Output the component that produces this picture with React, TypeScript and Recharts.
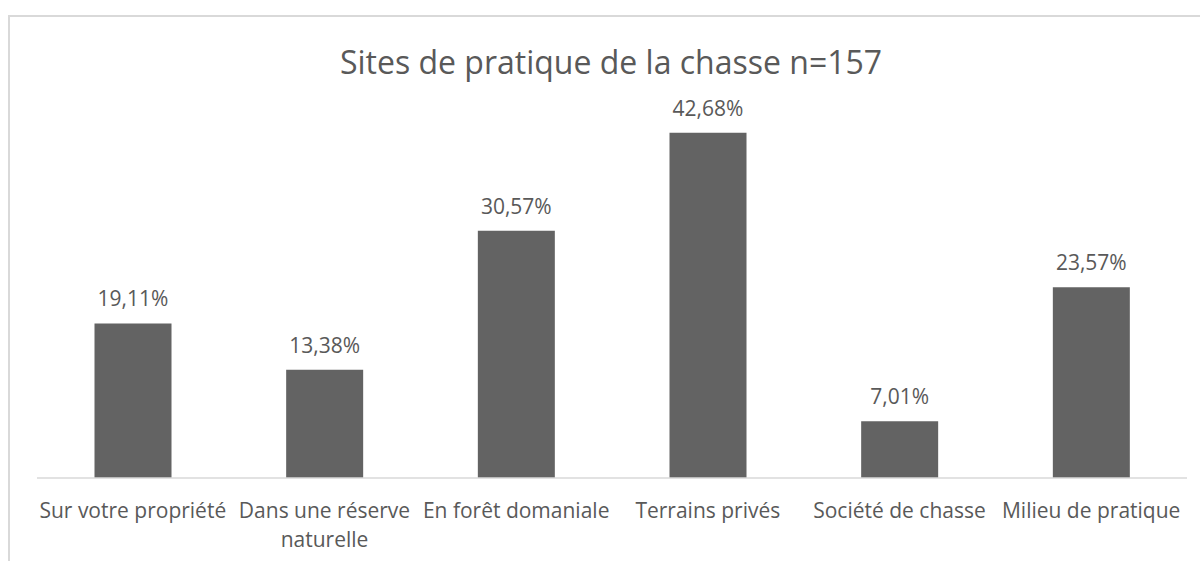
import React from "react";
import { BarChart, Bar, XAxis, YAxis, LabelList } from "recharts";

const categories = [
  "Sur votre propriété",
  "Dans une réserve naturelle",
  "En forêt domaniale",
  "Terrains privés",
  "Société de chasse",
  "Milieu de pratique",
];
const tickLines = [
  ["Sur votre propriété"],
  ["Dans une réserve", "naturelle"],
  ["En forêt domaniale"],
  ["Terrains privés"],
  ["Société de chasse"],
  ["Milieu de pratique"],
];
const values = [19.11, 13.38, 30.57, 42.68, 7.01, 23.57];
const title = "Sites de pratique de la chasse n=157";

const data = categories.map((c, i) => ({ name: c, value: values[i] }));

const FONT = "'Open Sans', sans-serif";
const TEXT = "#595959";

const fmt = (v: number) => v.toFixed(2).replace(".", ",") + "%";

const Tick = (props: any) => {
  const { x, y, payload, index } = props;
  const idx = typeof index === "number" ? index : categories.indexOf(payload.value);
  const lines = tickLines[idx] || [payload.value];
  return (
    <text
      x={x}
      y={y + 32}
      textAnchor="middle"
      fontSize={21}
      fontFamily={FONT}
      fill={TEXT}
    >
      {lines.map((l, i) => (
        <tspan key={i} x={x} dy={i === 0 ? 0 : 29}>
          {l}
        </tspan>
      ))}
    </text>
  );
};

export default function App() {
  return (
    <div
      style={{
        position: "absolute",
        left: 0,
        top: 0,
        width: 1200,
        height: 561,
        overflow: "hidden",
        background: "#fff",
      }}
    >
      <div
        style={{
          position: "absolute",
          left: 8,
          top: 15,
          width: 1400,
          height: 800,
          border: "2px solid #d9d9d9",
          boxSizing: "border-box",
        }}
      />
      <div
        style={{
          position: "absolute",
          left: 0,
          width: 1222,
          top: 42,
          textAlign: "center",
          fontFamily: FONT,
          fontSize: 32,
          color: TEXT,
          lineHeight: "40px",
        }}
      >
        {title}
      </div>
      <div style={{ position: "absolute", left: 0, top: 0 }}>
        <BarChart
          width={1200}
          height={561}
          data={data}
          margin={{ top: 114, right: 13, bottom: 0, left: 37 }}
          barCategoryGap="30%"
        >
          <XAxis
            dataKey="name"
            axisLine={{ stroke: "#d9d9d9", strokeWidth: 1.5 }}
            tickLine={false}
            tick={<Tick />}
            interval={0}
            height={83}
          />
          <YAxis hide domain={[0, 45]} width={0} />
          <Bar dataKey="value" fill="#636363" isAnimationActive={false}>
            <LabelList
              dataKey="value"
              position="top"
              offset={17}
              formatter={(v: any) => fmt(Number(v))}
              style={{ fontFamily: FONT, fontSize: 21, fill: TEXT }}
            />
          </Bar>
        </BarChart>
      </div>
    </div>
  );
}
